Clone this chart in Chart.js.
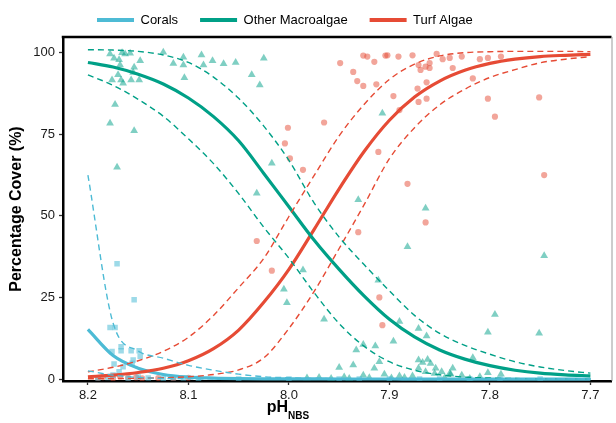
<!DOCTYPE html>
<html><head><meta charset="utf-8">
<script src="https://cdn.jsdelivr.net/npm/chart.js@4"></script>
<style>html,body{margin:0;padding:0;background:#fff;}#wrap{width:616px;height:423px;position:relative;}</style>
</head><body><div id="wrap"><canvas id="c" width="616" height="423"></canvas></div>
<script>
// ---- data ----
const seriesNames = ["Corals", "Other Macroalgae", "Turf Algae"];
const xTickLabels = [8.2, 8.1, 8.0, 7.9, 7.8, 7.7];
const yTickLabels = [0, 25, 50, 75, 100];

// fitted curves and their confidence bands, sampled along pH
const pHGrid      = [8.2, 8.175, 8.15, 8.125, 8.1, 8.075, 8.05, 8.025, 8.0, 7.975, 7.95, 7.925, 7.9, 7.875, 7.85, 7.825, 7.8, 7.775, 7.75, 7.725, 7.7];
const coralFit    = [15.2, 7.2, 3.3, 1.4, 0.6, 0.3, 0.15, 0.08, 0.05, 0.03, 0.02, 0.01, 0.01, 0, 0, 0, 0, 0, 0, 0, 0];
const coralUpper  = [62.5, 17.2, 8.6, 6.4, 4.2, 2.7, 1.5, 0.7, 0.4, 0.2, 0.1, 0.05, 0.03, 0.02, 0.01, 0, 0, 0, 0, 0, 0];
const coralLower  = [2.5, 1.2, 0.5, 0.2, 0.1, 0.05, 0.02, 0.01, 0, 0, 0, 0, 0, 0, 0, 0, 0, 0, 0, 0, 0];
const macroFit    = [97.0, 95.6, 93.4, 90.4, 86.1, 80.4, 73.0, 63.0, 52.8, 42.6, 33.6, 25.4, 18.3, 12.9, 8.9, 6.1, 4.1, 2.7, 1.8, 1.3, 1.0];
const macroUpper  = [100.9, 100.8, 100.4, 99.3, 97.0, 92.5, 86.0, 77.5, 67.0, 54.0, 43.5, 35.0, 27.0, 19.5, 14.0, 10.3, 7.6, 5.3, 3.7, 2.6, 1.8];
const macroLower  = [93.2, 90.0, 85.7, 80.5, 73.6, 66.0, 56.8, 46.5, 37.0, 26.5, 17.0, 10.0, 5.3, 2.7, 1.3, 0.6, 0.3, 0.15, 0.1, 0.05, 0.02];
const turfFit     = [0.7, 1.2, 2.0, 3.3, 5.6, 9.3, 15.0, 23.5, 33.6, 45.8, 58.3, 69.8, 79.3, 86.4, 91.3, 94.6, 96.7, 98.0, 98.8, 99.2, 99.5];
const turfUpper   = [2.2, 3.6, 5.6, 8.5, 12.8, 19.5, 28.0, 37.0, 49.8, 62.3, 74.5, 84.2, 91.8, 96.5, 99.0, 100.0, 100.3, 100.4, 100.4, 100.4, 100.3];
const turfLower   = [0.1, 0.15, 0.25, 0.4, 0.7, 1.4, 2.8, 6.5, 15.5, 26.8, 40.0, 53.5, 67.5, 77.0, 84.0, 88.8, 92.4, 94.8, 96.9, 98.0, 98.8];

// observed points
const coralPH    = [8.171, 8.154, 8.178, 8.173, 8.176, 8.167, 8.167, 8.157, 8.149, 8.148, 8.174, 8.165, 8.155, 8.156, 8.169, 8.175, 8.190, 8.180, 8.160, 8.150, 8.140, 8.125, 8.115, 8.105, 8.090, 8.050, 8.000, 7.950, 7.930, 7.900, 7.870, 7.850, 7.820, 7.790, 7.750];
const coralCover = [35.3, 24.3, 15.8, 15.8, 8.4, 9.9, 8.7, 8.7, 8.7, 7.0, 4.6, 3.8, 5.8, 4.8, 2.2, 1.2, 0.3, 0.5, 0.2, 0.6, 0.3, 0.2, 0.4, 0.3, 0.2, 0, 0, 0, 0, 0, 0, 0, 0, 0, 0];

const macroPH    = [8.178, 8.174, 8.169, 8.166, 8.163, 8.158, 8.148, 8.154, 8.168, 8.170, 8.176, 8.167, 8.165, 8.157, 8.149, 8.155, 8.125, 8.115, 8.105, 8.105, 8.104, 8.087, 8.085, 8.076, 8.065, 8.053, 8.037, 8.029, 8.173, 8.178, 8.154, 8.171, 8.032, 8.025,
                    7.907, 8.017, 7.931, 7.864, 7.882, 7.986, 8.005, 8.002, 7.911, 7.965, 7.890, 7.871, 7.863, 7.896, 7.926, 7.914, 7.933, 7.910, 7.950, 7.936, 7.915, 7.871, 7.867, 7.862, 7.859, 7.871, 7.854, 7.848, 7.837, 7.839, 7.926, 7.905, 7.890, 7.877, 7.864, 7.855,
                    7.746, 7.795, 7.802, 7.751, 7.817, 7.840, 7.828, 7.802, 7.789, 7.810, 7.982, 7.970, 7.958, 7.945, 7.940, 7.920, 7.898, 7.885, 7.845, 7.820];
const macroCover = [99.6, 98.3, 97.8, 100.0, 99.6, 99.8, 97.5, 95.5, 96.2, 93.2, 91.6, 91.6, 90.6, 91.6, 91.6, 93.9, 100.1, 96.7, 98.6, 96.2, 92.3, 99.3, 96.2, 97.5, 96.6, 97.0, 93.2, 90.1, 84.1, 78.4, 76.1, 64.9, 56.9, 98.3,
                    81.4, 66.1, 54.9, 52.3, 40.5, 33.4, 27.5, 23.4, 30.3, 18.3, 17.6, 15.5, 13.2, 11.6, 10.6, 10.1, 8.9, 5.3, 3.5, 4.3, 3.3, 5.8, 5.1, 6.0, 4.8, 3.3, 3.3, 2.2, 3.3, 1.5, 1.2, 1.5, 0.9, 0.9, 2.2, 1.7,
                    37.8, 19.8, 14.3, 14.0, 6.5, 1.7, 1.2, 1.9, 1.5, 0.7, 0.3, 0.5, 0.2, 0.6, 0.2, 0.4, 0.3, 0.5, 0.4, 0.2];

const turfPH    = [7.949, 7.936, 7.932, 7.926, 7.926, 7.922, 7.915, 7.913, 7.904, 7.902, 7.891, 7.877, 7.896, 7.890, 7.871, 7.869, 7.864, 7.860, 7.860, 7.853, 7.847, 7.840, 7.837, 7.863, 7.872, 7.871, 7.863,
                   8.001, 7.965, 8.004, 7.999, 7.986, 7.911, 7.882, 7.828, 7.810, 7.802, 7.789, 7.817, 7.802, 7.795, 7.751, 7.746, 8.032, 8.017, 7.931, 7.864, 7.910, 7.907,
                   8.190, 8.185, 8.175, 8.168, 8.160, 8.152, 8.146, 8.130, 8.115, 8.100];
const turfCover = [96.8, 94.1, 91.3, 89.8, 99.1, 98.8, 97.2, 90.3, 99.1, 99.2, 98.8, 99.2, 86.7, 82.4, 96.2, 94.7, 95.7, 96.8, 95.3, 99.6, 98.0, 98.4, 95.3, 90.9, 89.0, 84.9, 85.9,
                   77.0, 78.6, 72.2, 67.6, 64.1, 69.6, 59.8, 98.8, 98.0, 98.4, 98.8, 92.1, 85.9, 80.4, 86.3, 62.5, 42.3, 33.2, 45.0, 48.0, 25.0, 16.5,
                   0.3, 0.6, 0.2, 0.8, 0.4, 0.5, 0.2, 0.3, 0.2, 0.4];

// ---- styling ----
const C_CORAL = "#4DBBD5", C_MACRO = "#00A087", C_TURF = "#E64B35";
const A_CORAL = "rgba(77,187,213,0.55)", A_MACRO = "rgba(0,160,135,0.5)", A_TURF = "rgba(230,75,53,0.5)";
const FONT = "'Liberation Sans', Arial, Helvetica, sans-serif";

const toXY = (xs, ys) => xs.map((x, i) => ({x: x, y: ys[i]}));

function lineDS(label, ys, color, dashed) {
  return {
    type: 'line', label: label, data: toXY(pHGrid, ys),
    borderColor: color, backgroundColor: color,
    borderWidth: dashed ? 1.4 : 3.2, borderDash: dashed ? [6, 4] : [],
    pointRadius: 0, pointHoverRadius: 0, fill: false,
    cubicInterpolationMode: 'monotone', order: 1, legendKey: dashed ? null : label
  };
}
function pointDS(label, xs, ys, color, style, r) {
  return {
    type: 'scatter', label: label, data: toXY(xs, ys),
    backgroundColor: color, borderColor: 'rgba(0,0,0,0)', borderWidth: 0,
    pointStyle: style, pointRadius: r, pointHoverRadius: r, order: 5, legendKey: null
  };
}

const datasets = [
  pointDS(seriesNames[0] + " obs", coralPH, coralCover, A_CORAL, 'rect', 3.9),
  pointDS(seriesNames[2] + " obs", turfPH, turfCover, A_TURF, 'circle', 3.1),
  pointDS(seriesNames[1] + " obs", macroPH, macroCover, A_MACRO, 'triangle', 4.5),
  lineDS(seriesNames[0] + " upper", coralUpper, C_CORAL, true),
  lineDS(seriesNames[0] + " lower", coralLower, C_CORAL, true),
  lineDS(seriesNames[1] + " upper", macroUpper, C_MACRO, true),
  lineDS(seriesNames[1] + " lower", macroLower, C_MACRO, true),
  lineDS(seriesNames[2] + " upper", turfUpper, C_TURF, true),
  lineDS(seriesNames[2] + " lower", turfLower, C_TURF, true),
  lineDS(seriesNames[1], macroFit, C_MACRO, false),
  lineDS(seriesNames[2], turfFit, C_TURF, false),
  lineDS(seriesNames[0], coralFit, C_CORAL, false)
];

// legend / frame / title helpers
const LEGEND_FIRST_BOX_X = 97, LEGEND_TEXT_Y = 20, LEGEND_H = 37;
const frameAndTitle = {
  id: 'frameAndTitle',
  beforeLayout(chart) {
    const lg = chart.legend;
    if (lg && !lg._patched) {
      const f = lg.fit.bind(lg);
      lg.fit = function () { f(); this.height = LEGEND_H; };
      lg._patched = true;
    }
  },
  afterLayout(chart) {
    const lg = chart.legend;
    if (!lg) return;
    const pad = lg.options.labels.padding;
    const start = (lg.left + pad + lg.right - lg.lineWidths[0]) / 2;
    const dx = LEGEND_FIRST_BOX_X - start;
    lg.left += dx; lg.right += dx;
    const fs = lg.options.labels.font.size;
    lg.top = LEGEND_TEXT_Y - pad - fs / 2;
  },
  afterDraw(chart) {
    const {ctx, chartArea: a} = chart;
    ctx.save();
    // top border
    ctx.strokeStyle = '#000'; ctx.lineWidth = 2.5;
    ctx.beginPath(); ctx.moveTo(a.left - 1.25, a.top); ctx.lineTo(a.right, a.top); ctx.stroke();
    // right border (thin grey)
    ctx.strokeStyle = '#9a9a9a'; ctx.lineWidth = 1;
    ctx.beginPath(); ctx.moveTo(a.right + 0.5, a.top); ctx.lineTo(a.right + 0.5, a.bottom); ctx.stroke();
    // x axis title with subscript
    ctx.fillStyle = '#000';
    ctx.textBaseline = 'alphabetic';
    ctx.font = 'bold 16px ' + FONT;
    const w1 = ctx.measureText('pH').width;
    ctx.font = 'bold 10px ' + FONT;
    const w2 = ctx.measureText('NBS').width;
    const x0 = 288 - (w1 + w2) / 2;
    ctx.font = 'bold 16px ' + FONT;
    ctx.textAlign = 'left';
    ctx.fillText('pH', x0, 412);
    ctx.font = 'bold 10px ' + FONT;
    ctx.fillText('NBS', x0 + w1, 419);
    ctx.restore();
  }
};

Chart.defaults.font.family = FONT;
Chart.defaults.color = '#000';

new Chart(document.getElementById('c'), {
  type: 'scatter',
  data: {datasets: datasets},
  options: {
    responsive: false, animation: false,
    layout: {padding: {left: 0, right: 3, top: 0, bottom: 0}},
    plugins: {
      tooltip: {enabled: false},
      legend: {
        display: true, position: 'top', align: 'center',
        labels: {
          boxWidth: 37, boxHeight: 4, padding: 22,
          font: {size: 13, family: FONT}, color: '#000',
          generateLabels: (chart) => chart.data.datasets
            .filter(d => d.legendKey)
            .sort((p, q) => seriesNames.indexOf(p.legendKey) - seriesNames.indexOf(q.legendKey))
            .map(d => ({text: d.legendKey, fillStyle: d.borderColor, strokeStyle: d.borderColor, lineWidth: 0, hidden: false}))
        }
      }
    },
    scales: {
      x: {
        type: 'linear', reverse: true, min: 7.679, max: 8.2248,
        afterBuildTicks: (ax) => { ax.ticks = xTickLabels.map(v => ({value: v})); },
        afterFit: (ax) => { ax.height = 42; },
        ticks: {font: {size: 13}, color: '#1a1a1a', padding: 3, maxRotation: 0, autoSkip: false,
                callback: (v) => Number(v).toFixed(1)},
        grid: {drawOnChartArea: false, drawTicks: true, tickLength: 4, tickColor: '#333', tickWidth: 1.3, color: 'rgba(0,0,0,0)'},
        border: {display: true, color: '#000', width: 2.5}
      },
      y: {
        type: 'linear', min: -0.6, max: 104.8,
        afterBuildTicks: (ax) => { ax.ticks = yTickLabels.map(v => ({value: v})); },
        afterFit: (ax) => { ax.width = 63; },
        ticks: {font: {size: 13}, color: '#1a1a1a', padding: 4, autoSkip: false},
        grid: {drawOnChartArea: false, drawTicks: true, tickLength: 4, tickColor: '#333', tickWidth: 1.3, color: 'rgba(0,0,0,0)'},
        border: {display: true, color: '#000', width: 2.5},
        title: {display: true, text: 'Percentage Cover (%)', font: {size: 16, weight: 'bold'}, color: '#000', padding: {top: 7, bottom: 0}}
      }
    }
  },
  plugins: [frameAndTitle]
});
</script>
</body></html>
